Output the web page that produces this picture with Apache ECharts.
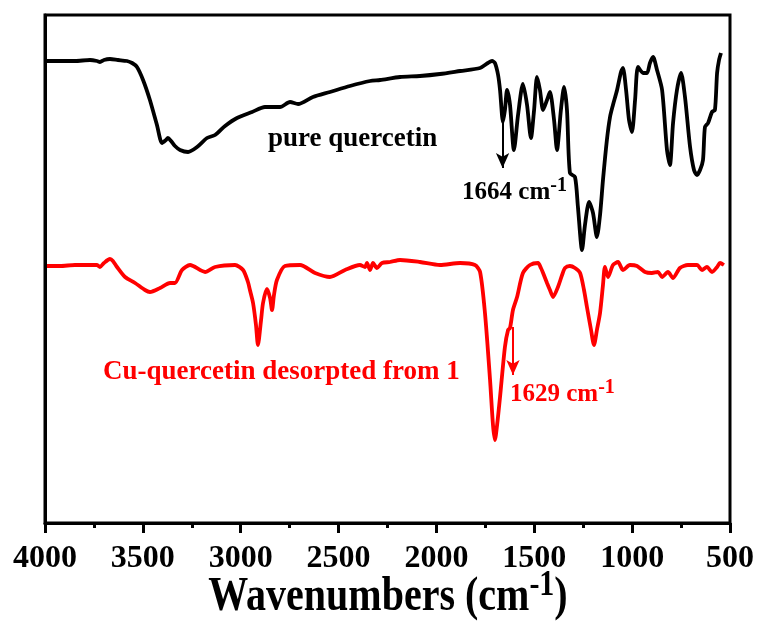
<!DOCTYPE html>
<html>
<head>
<meta charset="utf-8">
<script src="https://cdn.jsdelivr.net/npm/echarts@6/dist/echarts.min.js"></script>
<style>html,body{margin:0;padding:0;background:#fff;}#main{width:760px;height:626px;}</style>
</head>
<body>
<div id="main"></div>
<script>
// X tick labels (wavenumbers, cm-1)
const xTicks = [4000, 3500, 3000, 2500, 2000, 1500, 1000, 500];

// Pure quercetin spectrum (wavenumber, transmittance a.u.)
const blackWn = [3995,3923,3847,3770,3734,3719,3699,3668,3627,3581,3555,3530,3499,3464,3428,3402,3382,3372,3356,3336,3310,3269,3223,3172,3131,3080,3019,2942,2876,2799,2748,2707,2631,2544,2442,2339,2288,2186,2084,1982,1879,1777,1737,1716,1701,1685,1675,1660,1650,1639,1624,1604,1583,1558,1537,1517,1501,1486,1471,1455,1435,1420,1399,1384,1364,1348,1333,1318,1292,1277,1256,1241,1220,1200,1180,1164,1149,1129,1113,1098,1077,1057,1047,1031,1016,1001,985,970,944,924,909,893,873,847,822,807,791,771,750,730,704,684,669,653,638,628,612,592,577,566,556,546];
const blackVal = [462,462,462,463,462,461,463,464,463,462,460,456,443,423,398,380,383,385,382,377,373,371,376,385,388,397,405,411,416,416,421,419,426,431,437,442,443,446,447,449,452,455,460,462,460,448,433,401,413,433,418,373,408,439,418,385,413,446,433,413,423,431,403,373,413,436,413,350,346,316,273,298,321,310,286,308,343,383,406,418,433,451,455,433,403,391,423,456,450,450,460,466,453,433,373,358,400,433,450,426,376,353,348,353,363,396,400,411,413,450,463,470];

// Cu-quercetin desorbed spectrum
const redWn = [3990,3923,3847,3770,3734,3719,3699,3668,3653,3632,3591,3540,3489,3464,3412,3361,3336,3300,3259,3182,3131,3029,2988,2963,2953,2937,2922,2912,2896,2886,2866,2850,2840,2830,2815,2774,2697,2620,2544,2467,2391,2365,2355,2339,2324,2304,2278,2237,2186,2084,1982,1879,1803,1777,1752,1726,1711,1701,1690,1675,1650,1634,1624,1609,1588,1558,1522,1481,1466,1455,1435,1420,1404,1379,1358,1343,1318,1292,1266,1246,1231,1210,1195,1180,1164,1149,1139,1123,1098,1072,1047,1011,975,934,899,868,847,817,791,756,715,669,643,618,592,566,551,531];
const redVal = [257,257,258,258,258,256,260,264,262,256,246,240,233,231,235,240,240,253,258,251,256,258,253,241,233,220,198,178,203,220,234,225,213,228,243,257,258,250,246,253,258,256,260,253,260,255,260,261,263,261,258,260,258,251,210,143,98,83,98,126,176,193,195,213,226,250,258,260,255,250,240,233,226,236,248,255,257,255,250,233,216,193,178,193,210,238,256,246,258,261,253,258,257,251,250,251,246,251,245,255,258,258,253,256,251,256,260,258];

// Annotation arrows: [wavenumber, from value, to value]
const blackArrow = [1662, 401, 355];
const redArrow = [1609, 196, 148];

const FONT = "'Liberation Serif','Times New Roman',serif";
const chart = echarts.init(document.getElementById('main'), null, {renderer: 'canvas'});

function pairs(xs, ys) { return xs.map((x, i) => [x, ys[i]]); }

function arrow(a, color) {
  return {
    silent: true, animation: false,
    symbol: ['none', 'arrow'], symbolSize: 12,
    label: {show: false},
    lineStyle: {color: color, width: 2, type: 'solid'},
    data: [[{coord: [a[0], a[1]]}, {coord: [a[0], a[2]], symbol: 'arrow', symbolSize: [10, 15]}]]
  };
}

chart.setOption({
  animation: false,
  backgroundColor: '#fff',
  grid: {left: 45, right: 30, top: 15, bottom: 103, show: true, borderColor: '#000', borderWidth: 3, backgroundColor: 'transparent'},
  xAxis: {
    type: 'value', min: 500, max: 4000, interval: 500, inverse: true,
    axisLine: {show: true, lineStyle: {color: '#000', width: 3}},
    axisTick: {show: true, inside: false, length: 10, lineStyle: {color: '#000', width: 3}},
    minorTick: {show: true, splitNumber: 2, length: 5, lineStyle: {color: '#000', width: 3}},
    splitLine: {show: false},
    axisLabel: {
      color: '#000', fontFamily: FONT, fontWeight: 'bold', fontSize: 32, margin: 20,
      formatter: function (v) { return xTicks.indexOf(v) >= 0 ? String(v) : ''; }
    }
  },
  yAxis: {
    type: 'value', min: 0, max: 508,
    axisLine: {show: true, lineStyle: {color: '#000', width: 3}},
    axisTick: {show: false}, axisLabel: {show: false}, splitLine: {show: false}
  },
  series: [
    {
      type: 'line', name: 'pure quercetin', data: pairs(blackWn, blackVal),
      showSymbol: false, smooth: 0.25, color: '#000',
      lineStyle: {color: '#000', width: 3.8}, markLine: arrow(blackArrow, '#000')
    },
    {
      type: 'line', name: 'Cu-quercetin', data: pairs(redWn, redVal),
      showSymbol: false, smooth: 0.25, color: '#ff0000',
      lineStyle: {color: '#ff0000', width: 3.8}, markLine: arrow(redArrow, '#ff0000')
    }
  ]
});

// Text annotations anchored in data coordinates (left, middle)
const notes = [
  {wn: 2861, v: 384, color: '#000', text: '{m|pure quercetin}', size: 27},
  {wn: 3704, v: 151, color: '#ff0000', text: '{m|Cu-quercetin desorpted from 1}', size: 27},
  {wn: 1869, v: 330, color: '#000', text: '{m|1664 cm}{s|-1}', size: 25},
  {wn: 1624, v: 128, color: '#ff0000', text: '{m|1629 cm}{s|-1}', size: 25}
];

const graphics = notes.map(n => {
  const p = chart.convertToPixel({gridIndex: 0}, [n.wn, n.v]);
  return {
    type: 'text', x: p[0], y: p[1], z: 100,
    style: {
      text: n.text, align: 'left', verticalAlign: 'middle',
      rich: {
        m: {fontFamily: FONT, fontWeight: 'bold', fontSize: n.size, lineHeight: n.size + 10, fill: n.color, color: n.color},
        s: {fontFamily: FONT, fontWeight: 'bold', fontSize: 20, lineHeight: 14, verticalAlign: 'top', fill: n.color, color: n.color}
      }
    }
  };
});

graphics.push({
  type: 'text', x: 388, y: 598, scaleY: 1.2, z: 100,
  style: {
    text: '{m|Wavenumbers (cm}{s|-1}{m|)}', align: 'center', verticalAlign: 'middle',
    rich: {
      m: {fontFamily: FONT, fontWeight: 'bold', fontSize: 40, lineHeight: 50, fill: '#000', color: '#000'},
      s: {fontFamily: FONT, fontWeight: 'bold', fontSize: 30, lineHeight: 30, verticalAlign: 'top', fill: '#000', color: '#000'}
    }
  }
});

chart.setOption({graphic: graphics});
</script>
</body>
</html>
